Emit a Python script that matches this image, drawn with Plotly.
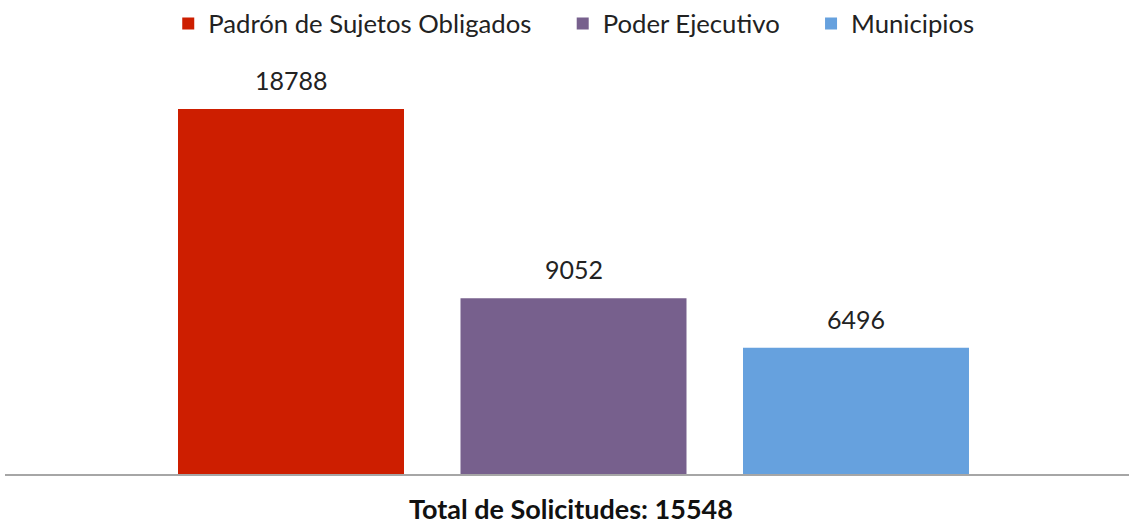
import plotly.graph_objects as go

series = ["Padrón de Sujetos Obligados", "Poder Ejecutivo", "Municipios"]
values = [18788, 9052, 6496]
colors = ["#CD1E00", "#77608D", "#66A1DE"]
total_label = "Total de Solicitudes: 15548"

FONT = "Lato"
PAD = "\u00a0" * 4
fig = go.Figure()
for i, (name, v, c) in enumerate(zip(series, values, colors)):
    fig.add_trace(go.Bar(
        name=name + (PAD if i < len(series) - 1 else ""), x=[i], y=[v], width=0.8,
        marker_color=c, marker_line_width=0, hovertemplate=name + ": %{y}<extra></extra>",
    ))
    fig.add_annotation(x=i, y=v, text=str(v), showarrow=False, yshift=29,
                       yanchor="middle", font=dict(size=25, color="#222222", family=FONT))

fig.add_annotation(text="<b>" + total_label + "</b>", x=(571 - 5) / 1124, xref="paper",
                   y=-0.0845, yref="paper", yanchor="middle", showarrow=False,
                   font=dict(size=27, family=FONT, color="#111111"))

fig.update_layout(
    width=1129, height=525,
    margin=dict(l=5, r=0, t=60, b=51),
    plot_bgcolor="white", paper_bgcolor="white",
    barmode="overlay",
    font=dict(family=FONT, size=25.7, color="#222222"),
    showlegend=True,
    legend=dict(orientation="h", x=0.506, xanchor="center", y=1.1445, yanchor="top",
                font=dict(size=25.7), itemwidth=30, traceorder="normal"),
    xaxis=dict(range=[-1.0124, 2.9664], showticklabels=False, showline=True,
               linecolor="#A6A6A6", linewidth=2, ticks="", showgrid=False, zeroline=False),
    yaxis=dict(range=[0, 21310], visible=False, showgrid=False),
)

fig.write_html("out.html", config={"displayModeBar": False},
               post_script="document.body.style.margin='0';")
